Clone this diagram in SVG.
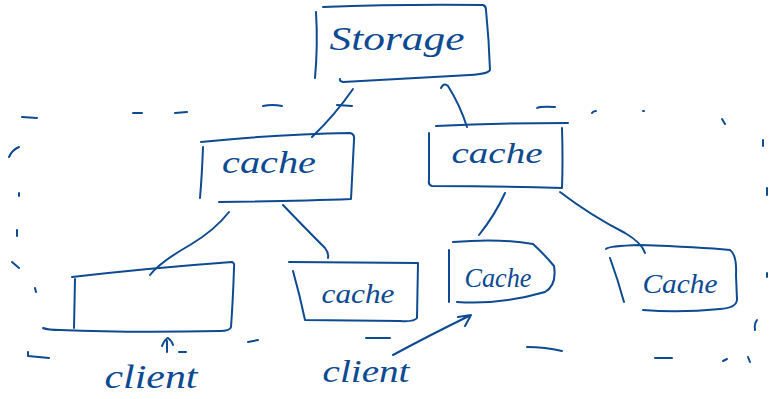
<svg xmlns="http://www.w3.org/2000/svg" width="769" height="399" viewBox="0 0 769 399">
<style>
.s{fill:none;stroke:#0d4a91;stroke-width:2;stroke-linecap:round;stroke-linejoin:round}
.t{fill:#0d4a91;font-family:"Liberation Serif",serif;font-style:italic;text-anchor:middle}
</style>
<rect width="769" height="399" fill="#fff"/>
<g id="outline" class="s">
<path d="M22,117 L37,118"/><path d="M133,113 L142,113"/><path d="M175,113 L187,112"/><path d="M263,106 Q272,104 282,106"/>
<path d="M9,157 Q12,150 19,147"/><path d="M19,193 L19,196"/><path d="M17,230 L17,236"/><path d="M12,262 L19,268"/><path d="M35,288 L36,292"/>
<path d="M28,352 L28,356 L49,358"/><path d="M248,342 L258,340"/><path d="M366,338 L390,338"/>
<path d="M537,108 Q540,106 555,107"/><path d="M592,113 Q593,111 596,111"/><path d="M643,111 L644,111"/><path d="M722,119 L725,124"/>
<path d="M763,140 L763,146"/><path d="M767,188 L767,195"/><path d="M767,273 L767,277"/><path d="M757,320 Q754,324 755,330"/>
<path d="M748,357 L750,362"/><path d="M723,361 L727,359"/><path d="M655,358 L672,358"/><path d="M527,347 Q545,347 562,351"/>
</g>
<g id="storage">
<path class="s" d="M316,12 Q318,45 315,78 M323,7 Q400,4 483,5 Q486,6 486,10 Q489,40 490,70 Q488,74 470,75 Q400,79 343,82 Q339,81 340,79"/>
<text class="t" x="397" y="50" font-size="34" textLength="135" lengthAdjust="spacingAndGlyphs">Storage</text>
</g>
<g id="cacheL">
<path class="s" d="M203,147 Q202,175 200,198 M201,142 Q280,134 350,133 Q355,134 354,140 L351,199 Q300,201 219,202"/>
<text class="t" x="269" y="173" font-size="32" textLength="94" lengthAdjust="spacingAndGlyphs">cache</text>
</g>
<g id="cacheR">
<path class="s" d="M436,126 Q500,123 568,123 M562,128 Q563,160 562,188 Q500,186 432,186 Q428,185 429,180 L429,133"/>
<text class="t" x="497" y="163" font-size="30" textLength="91" lengthAdjust="spacingAndGlyphs">cache</text>
</g>
<g id="client">
<path class="s" d="M75,279 L74,328 M72,277 Q150,268 232,262 Q235,263 234,268 Q233,300 231,327 Q230,331 220,331 Q130,333 60,330 Q48,330 43,328"/>
</g>
<g id="cacheM">
<path class="s" d="M289,262 L418,263 L417,318 Q414,322 400,321 L305,320 Q300,296 293,271"/>
<text class="t" x="358" y="303" font-size="28" textLength="73" lengthAdjust="spacingAndGlyphs">cache</text>
</g>
<g id="cacheRound">
<path class="s" d="M449,250 L449,302 M453,242 Q500,238 533,244 Q545,255 554,266 Q557,285 545,292 Q500,305 457,302"/>
<text class="t" x="498" y="287" font-size="28" textLength="67" lengthAdjust="spacingAndGlyphs">Cache</text>
</g>
<g id="cacheRR">
<path class="s" d="M610,258 Q618,280 624,302 M606,249 Q608,246 640,245 Q700,247 730,250 Q737,255 736,275 L737,300 Q736,308 720,309 Q680,313 643,310"/>
<text class="t" x="680" y="293" font-size="28" textLength="75" lengthAdjust="spacingAndGlyphs">Cache</text>
</g>
<g id="labels">
<text class="t" x="151" y="388" font-size="34" textLength="93" lengthAdjust="spacingAndGlyphs">client</text>
<text class="t" x="366" y="382" font-size="32" textLength="87" lengthAdjust="spacingAndGlyphs">client</text>
</g>
<g id="connectors" class="s">
<path d="M353,89 Q335,115 312,137"/><path d="M337,105 L352,106"/>
<path d="M441,88 Q444,82 448,86 Q460,105 467,127"/>
<path d="M229,212 Q215,230 190,245 Q160,262 150,275"/>
<path d="M283,205 Q305,228 325,248 Q329,253 328,258"/>
<path d="M505,193 Q495,215 479,235"/>
<path d="M560,192 Q590,215 625,233 Q642,243 645,253"/>
<path d="M167,352 L167,341 M162,346 Q165,339 168,338 Q172,341 173,345 M179,352 L186,352"/>
<path d="M393,355 Q430,335 471,315 M458,317 L471,315 L465,326"/>
</g>
</svg>
